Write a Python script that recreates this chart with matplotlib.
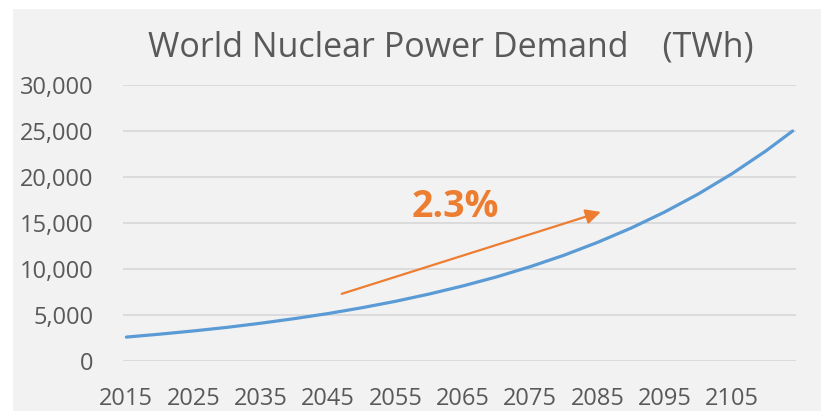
import matplotlib
matplotlib.use("Agg")
import matplotlib.pyplot as plt
from matplotlib.patches import Rectangle

# demand in TWh, every 5 years
years = [2015, 2020, 2025, 2030, 2035, 2040, 2045, 2050, 2055, 2060, 2065,
         2070, 2075, 2080, 2085, 2090, 2095, 2100, 2105, 2110, 2114]
demand = [2600, 2920, 3270, 3660, 4110, 4610, 5160, 5790, 6490, 7280, 8160,
          9140, 10250, 11490, 12890, 14450, 16200, 18160, 20360, 22820, 25000]

first_year = 2015
last_year = 2114
label_years = [2015, 2025, 2035, 2045, 2055, 2065, 2075, 2085, 2095, 2105]
yticks = [0, 5000, 10000, 15000, 20000, 25000, 30000]

arrow_from = (2047, 7300)
arrow_to = (2085.5, 16200)
growth_label = "2.3%"
growth_pos = (2063.8, 16700)

title = "World Nuclear Power Demand\u3000(TWh)"

grey = "#595959"
blue = "#5B9BD5"
orange = "#ED7D31"
fonts = ["Open Sans", "Noto Sans CJK JP", "DejaVu Sans"]
plt.rcParams["font.family"] = fonts

fig = plt.figure(figsize=(8.21, 4.11), dpi=100)
fig.patch.set_facecolor("white")
fig.patches.append(Rectangle((13 / 821, 0), 1, 1 - 9 / 411, transform=fig.transFigure,
                             facecolor="#F2F2F2", edgecolor="none", zorder=-1))

ax = fig.add_axes([123 / 821, 1 - 361 / 411, 673 / 821, 276 / 411])
ax.set_facecolor("none")

ax.plot(years, demand, color=blue, linewidth=2.3, solid_capstyle="round", zorder=3)

ax.set_xlim(first_year - 0.5, last_year + 0.5)
ax.set_ylim(0, 30000)
ax.set_xticks(label_years)
ax.set_yticks(yticks)
ax.set_yticklabels([f"{v:,}" for v in yticks])
ax.grid(axis="y", color="#D9D9D9", linewidth=1.3)
ax.set_axisbelow(True)
for s in ax.spines.values():
    s.set_visible(False)
ax.tick_params(axis="both", length=0, labelsize=17, labelcolor=grey)
ax.tick_params(axis="y", pad=21)
ax.tick_params(axis="x", pad=19)

ax.annotate("", xy=arrow_to, xytext=arrow_from,
            arrowprops=dict(arrowstyle="-|>,head_length=0.9,head_width=0.45",
                            color=orange, linewidth=1.6, shrinkA=0, shrinkB=0))
ax.text(growth_pos[0], growth_pos[1], growth_label, color=orange, fontsize=27,
        fontweight="bold", ha="center", va="center")

fig.text(451 / 821, 1 - 47 / 411, title, color=grey, fontsize=24.5,
         ha="center", va="center")

fig.savefig("out.png", dpi=100)
